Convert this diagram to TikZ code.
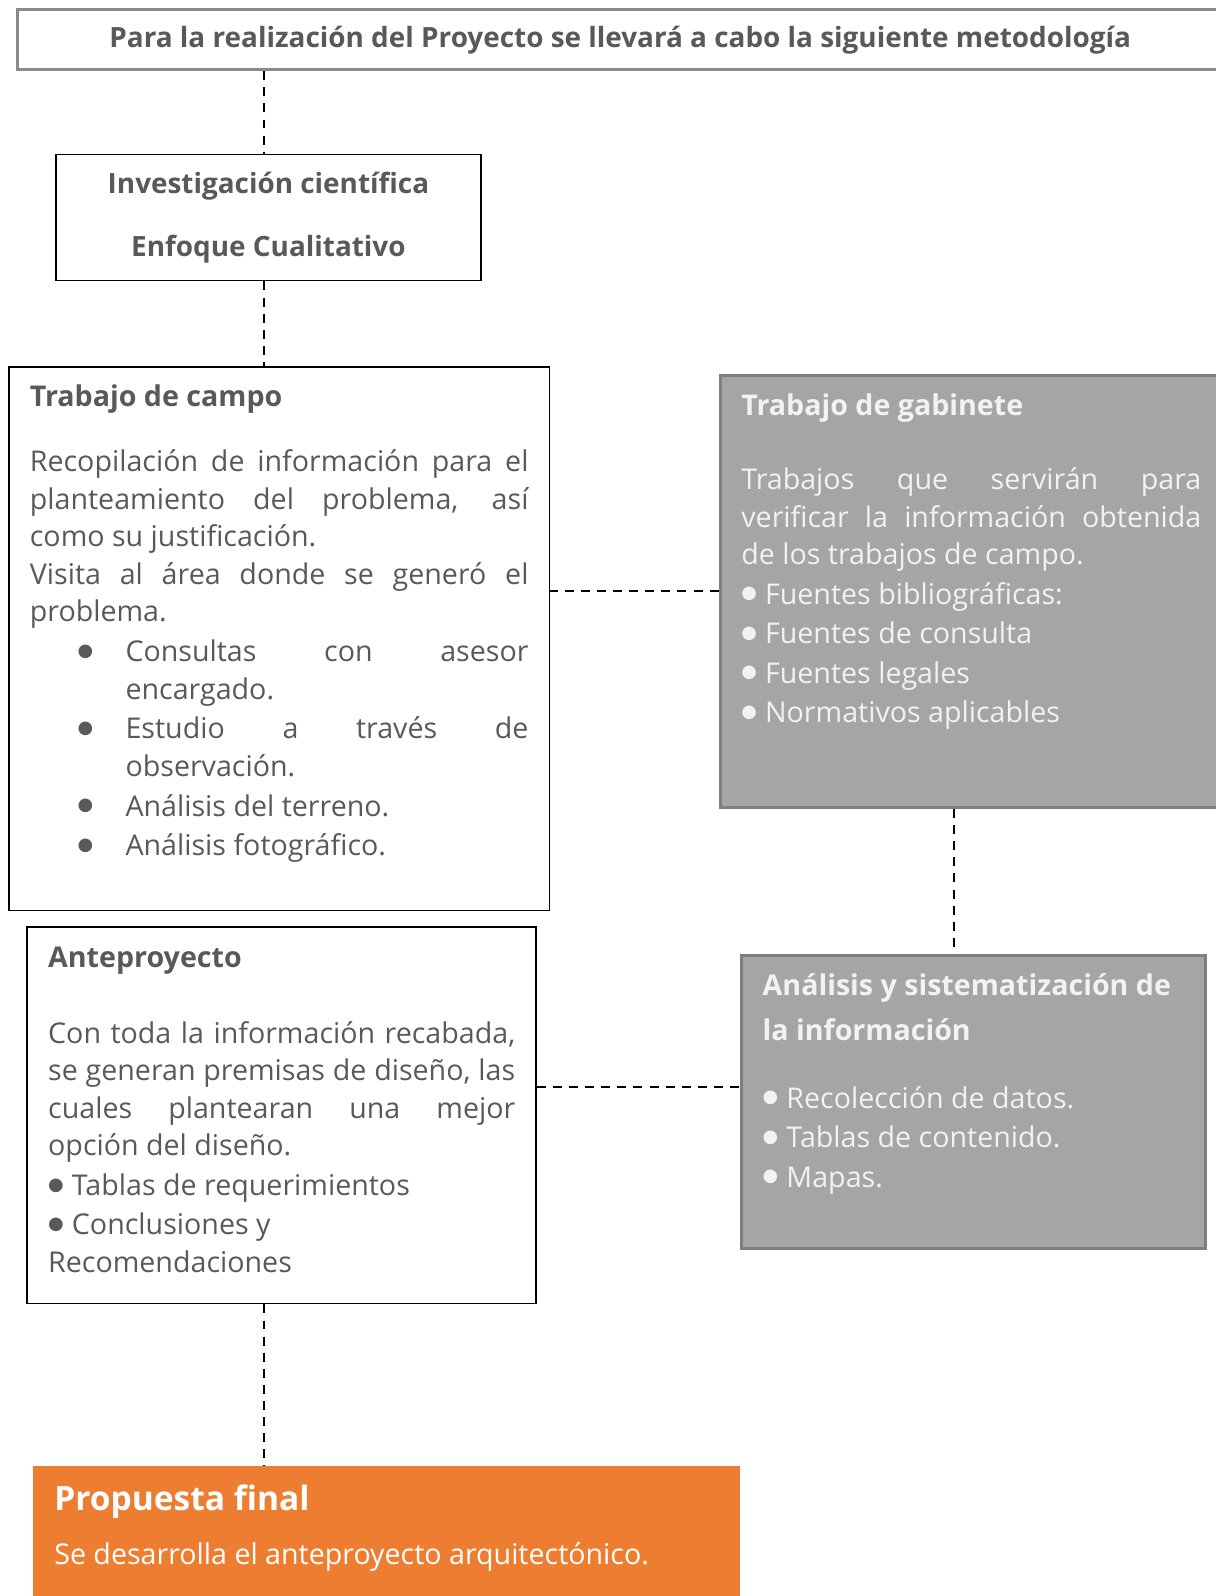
\documentclass[tikz,border=0pt]{standalone}
\usepackage{fontspec}
\setmainfont{Open Sans}
\newfontfamily\dotfont{DejaVu Sans}
\usetikzlibrary{positioning}

\definecolor{txtgray}{HTML}{595959}
\definecolor{boxgray}{HTML}{A5A5A5}
\definecolor{boxline}{HTML}{7F7F7F}
\definecolor{topline}{HTML}{8A8A8A}
\definecolor{orangebox}{HTML}{ED7D31}

\newcommand{\headsize}{\fontsize{15.6}{21}\selectfont}
\newcommand{\bodysize}{\fontsize{16}{21}\selectfont}
\newcommand{\bigdot}{\raisebox{2.9pt}{\dotfont\fontsize{10}{12}\selectfont ●}}
\newcommand{\campoitem}[1]{\par\vspace{1.2pt}\noindent\hangindent=1.88cm\hangafter=1\hspace*{0.94cm}\makebox[0.94cm][l]{\bigdot}#1}
\newcommand{\dotitem}[1]{\par\vspace{1.1pt}\noindent\bigdot\hspace{0.16cm}#1}

\begin{document}
\begin{tikzpicture}[x=0.02cm, y=-0.02cm,
    plainbox/.style={draw=black, line width=0.9pt, anchor=north west, inner sep=0pt},
    graybox/.style={draw=boxline, fill=boxgray, line width=1.7pt, anchor=north west, inner sep=0pt},
    darktext/.style={text=txtgray, align=justify, inner sep=0pt, font=\bodysize},
    lighttext/.style={text=white!95!black, align=justify, inner sep=0pt, font=\bodysize},
    link/.style={draw=black, line width=1pt, dash pattern=on 5pt off 4pt}]

    \useasboundingbox (0,0) rectangle (1194,1568);
    \coordinate (spine) at (259,0);
    \coordinate (gx)    at (937,0);
    \coordinate (ay)    at (0,1068);

    % cabecera
    \node[plainbox, draw=topline, line width=1.7pt, minimum width=23.68cm, minimum height=1.18cm,
          text=txtgray, font=\headsize\bfseries] (intro) at (16,8)
          {Para la realización del Proyecto se llevará a cabo la siguiente metodología};

    \node[plainbox, minimum width=8.36cm, minimum height=2.48cm, align=center,
          text=txtgray, font=\headsize\bfseries] (invest) at (54,151)
          {Investigación científica\\[14.7pt]Enfoque Cualitativo};

    % columna izquierda
    \node[plainbox, minimum width=10.62cm, minimum height=10.68cm] (campo) at (8,360) {};
    \node[darktext, text width=9.8cm, below right=0.256cm and 0.42cm of campo.north west] (campotxt)
          {\strut{\bfseries Trabajo de campo}\par\vspace{15.7pt}
           Recopilación de información para el\linebreak planteamiento del problema, así\linebreak
           como su justificación.\par
           Visita al área donde se generó el\linebreak problema.
           \campoitem{Consultas con asesor\linebreak encargado.}
           \campoitem{Estudio a través de\linebreak observación.}
           \campoitem{Análisis del terreno.}
           \campoitem{Análisis fotográfico.}};

    \node[plainbox, minimum width=10cm, minimum height=7.4cm] (ante) at (26,910) {};
    \node[darktext, text width=9.18cm, below right=0.28cm and 0.42cm of ante.north west] (antetxt)
          {\strut{\bfseries Anteproyecto}\par\vspace{21.5pt}
           Con toda la información recabada,\linebreak se generan premisas de diseño, las\linebreak
           cuales plantearan una mejor\linebreak opción del diseño.
           \dotitem{Tablas de requerimientos}
           \dotitem{Conclusiones y\\Recomendaciones}};

    % columna derecha
    \node[graybox, minimum width=9.88cm, minimum height=8.5cm] (gab) at (706,367) {};
    \node[lighttext, text width=9.04cm, below right=0.30cm and 0.44cm of gab.north west] (gabtxt)
          {\strut{\bfseries Trabajo de gabinete}\par\vspace{20.4pt}
           Trabajos que servirán para\linebreak verificar la información obtenida\linebreak
           de los trabajos de campo.
           \dotitem{Fuentes bibliográficas:}
           \dotitem{Fuentes de consulta}
           \dotitem{Fuentes legales}
           \dotitem{Normativos aplicables}};

    \node[graybox, minimum width=9.12cm, minimum height=5.76cm] (ana) at (727,937) {};
    \node[lighttext, text width=8.4cm, below right=0.30cm and 0.44cm of ana.north west] (anatxt)
          {\strut{\bfseries Análisis y sistematización de\\[3.9pt]la información}\par\vspace{17pt}
           \noindent\bigdot\hspace{0.16cm}Recolección de datos.
           \dotitem{Tablas de contenido.}
           \dotitem{Mapas.}};

    % propuesta
    \node[anchor=north west, fill=orangebox, inner sep=0pt, minimum width=13.9cm, minimum height=2.9cm] (final) at (32,1440) {};
    \node[lighttext, text=white, text width=13cm, below right=0.36cm and 0.42cm of final.north west] (finaltxt)
          {\strut{\fontsize{18.75}{21}\selectfont\bfseries Propuesta final}\par\vspace{9pt}
           Se desarrolla el anteproyecto arquitectónico.};

    % conectores
    \draw[link] (intro.south -| spine) -- (invest.north -| spine);
    \draw[link] (invest.south -| spine) -- (campo.north -| spine);
    \draw[link] (gab.west) -- (gab.west -| campo.east);
    \draw[link] (gab.south -| gx) -- (ana.north -| gx);
    \draw[link] (ante.east |- ay) -- (ana.west |- ay);
    \draw[link] (ante.south -| spine) -- (final.north -| spine);

\end{tikzpicture}
\end{document}
